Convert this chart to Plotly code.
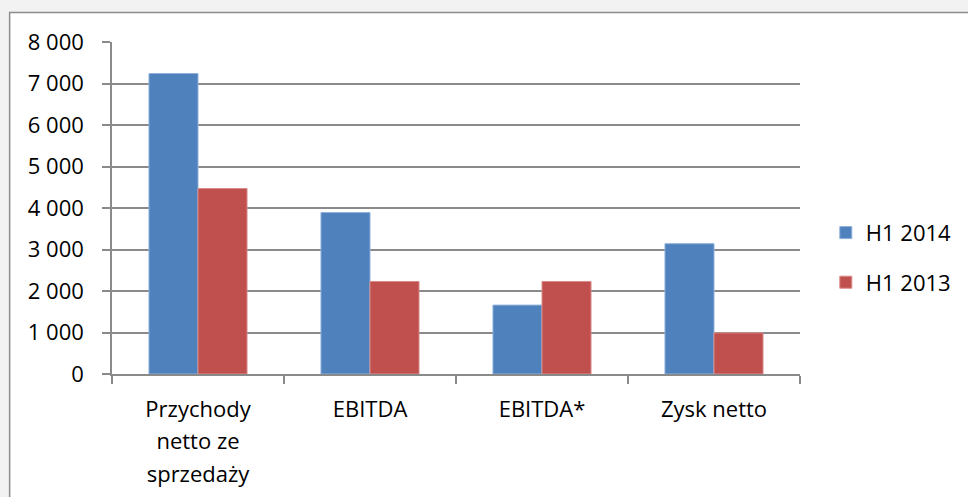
import plotly.graph_objects as go

categories = ["Przychody<br>netto ze<br>sprzedaży", "EBITDA", "EBITDA*", "Zysk netto"]
h1_2014 = [7240, 3890, 1660, 3140]
h1_2013 = [4470, 2230, 2230, 990]
y_ticks = [0, 1000, 2000, 3000, 4000, 5000, 6000, 7000, 8000]
y_tick_labels = ["0", "1 000", "2 000", "3 000", "4 000", "5 000", "6 000", "7 000", "8 000"]

FONT = "Open Sans, Liberation Sans, sans-serif"
GRID = "#8a8a8a"

def wrap(t, size=22):
    return f"<span style='font-size:{size}px'>{t}</span>"

fig = go.Figure()
fig.add_trace(go.Bar(name="H1 2014", x=categories, y=h1_2014,
                     marker=dict(color="#4F81BD", line=dict(color="#8fb0da", width=1)),
                     legendgroup="a"))
fig.add_trace(go.Bar(name="H1 2013", x=categories, y=h1_2013,
                     marker=dict(color="#C0504D", line=dict(color="#d98c8a", width=1)),
                     legendgroup="b"))

fig.update_layout(
    width=968, height=497,
    margin=dict(l=112, r=167, t=42, b=123),
    paper_bgcolor="#f2f2f2",
    plot_bgcolor="white",
    barmode="group",
    bargap=0.43,
    bargroupgap=0,
    font=dict(family=FONT, size=22, color="black"),
    legend=dict(x=1.036, y=0.35, xanchor="left", yanchor="middle",
                font=dict(size=22), tracegroupgap=18, bgcolor="rgba(0,0,0,0)"),
    xaxis=dict(
        showline=True, linecolor=GRID, linewidth=1.5,
        ticks="outside", ticklen=8, tickcolor=GRID, tickwidth=1.5,
        tickson="boundaries",
        tickfont=dict(size=25, family=FONT),
        ticktext=[wrap(c) for c in categories], tickvals=categories,
        ticklabelstandoff=11,
        showgrid=False,
        automargin=False,
    ),
    yaxis=dict(
        range=[0, 8000],
        tickvals=y_ticks, ticktext=y_tick_labels,
        showline=True, linecolor=GRID, linewidth=1.5,
        ticks="outside", ticklen=8, tickcolor=GRID, tickwidth=1.5,
        showgrid=True, gridcolor=GRID, gridwidth=1.5,
        tickfont=dict(size=22, family=FONT),
        ticklabelstandoff=14,
        zeroline=False,
        automargin=False,
    ),
    shapes=[dict(type="rect", xref="paper", yref="paper",
                 x0=-0.1488, x1=1.4, y0=-0.6, y1=1.089,
                 fillcolor="white", line=dict(color="#8c8c8c", width=1.5),
                 layer="below")],
)

fig.write_html(
    "out.html",
    config={"displayModeBar": False},
    post_script="document.body.style.margin='0';document.body.style.background='#f2f2f2';",
)
